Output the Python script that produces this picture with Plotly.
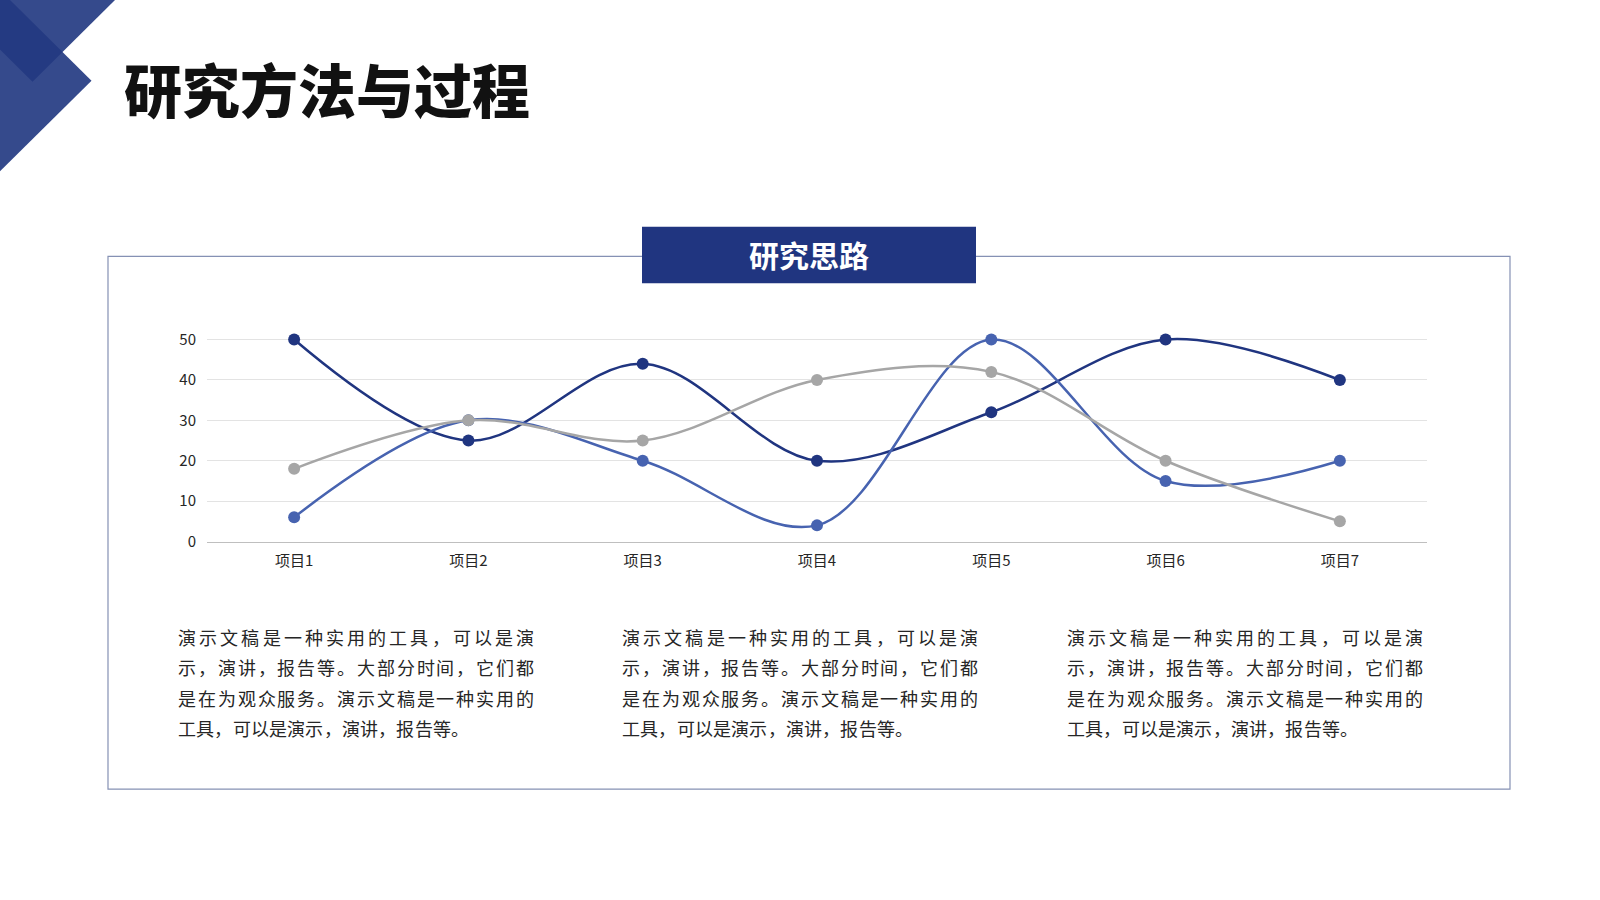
import plotly.graph_objects as go

W, H = 1600, 900

categories = ["项目1", "项目2", "项目3", "项目4", "项目5", "项目6", "项目7"]
series_a = [50, 25, 44, 20, 32, 50, 40]
series_b = [6, 30, 20, 4, 50, 15, 20]
series_c = [18, 30, 25, 40, 42, 20, 5]
y_ticks = [0, 10, 20, 30, 40, 50]

page_title = "研究方法与过程"
box_title = "研究思路"
paragraph_lines = [
    "演示文稿是一种实用的工具，可以是演",
    "示，演讲，报告等。大部分时间，它们都",
    "是在为观众服务。演示文稿是一种实用的",
    "工具，可以是演示，演讲，报告等。",
]

NAVY = "#203580"
BLUE = "#4763b0"
GREY = "#a6a6a6"
FONT = "Noto Sans CJK SC"


def px(x):
    return x / W


def py(y):
    return 1 - y / H


fig = go.Figure()

for vals, color in [(series_a, NAVY), (series_b, BLUE), (series_c, GREY)]:
    fig.add_trace(
        go.Scatter(
            x=categories,
            y=vals,
            mode="lines+markers",
            line=dict(color=color, width=2.5, shape="spline", smoothing=1),
            marker=dict(size=12, color=color),
            cliponaxis=False,
            showlegend=False,
        )
    )

fig.update_layout(
    width=W,
    height=H,
    margin=dict(l=0, r=0, t=0, b=0),
    paper_bgcolor="#ffffff",
    plot_bgcolor="#ffffff",
    font=dict(family=FONT, color="#333333"),
)

fig.update_xaxes(
    type="category",
    range=[-0.5, 6.5],
    domain=[px(207), px(1427)],
    showgrid=False,
    showline=True,
    linecolor="#bfbfbf",
    linewidth=1,
    ticks="",
    tickfont=dict(size=15, color="#262626"),
    ticklabelstandoff=5,
)

fig.update_yaxes(
    range=[0, 55],
    domain=[py(547), py(547 - 55 * 4.08)],
    tickvals=y_ticks,
    showgrid=True,
    gridcolor="#e3e3e3",
    gridwidth=1,
    zeroline=False,
    showline=False,
    ticks="",
    tickfont=dict(size=15, color="#262626"),
    ticklabelstandoff=10,
)

shapes = []
# decorative corner
shapes.append(dict(type="path", xref="paper", yref="paper", layer="above",
                   path=f"M {px(0)},{py(0)} L {px(10)},{py(0)} L {px(91.5)},{py(81.5)} L {px(0)},{py(173)} Z",
                   fillcolor="#354a8c", line=dict(width=0)))
shapes.append(dict(type="path", xref="paper", yref="paper", layer="above",
                   path=f"M {px(0)},{py(0)} L {px(115)},{py(0)} L {px(32.5)},{py(82.5)} L {px(0)},{py(50)} Z",
                   fillcolor="#354a8c", line=dict(width=0)))
shapes.append(dict(type="path", xref="paper", yref="paper", layer="above",
                   path=f"M {px(0)},{py(0)} L {px(10)},{py(0)} L {px(62.5)},{py(52.5)} L {px(32.5)},{py(82.5)} L {px(0)},{py(50)} Z",
                   fillcolor="#243a82", line=dict(width=0)))
# frame
shapes.append(dict(type="rect", xref="paper", yref="paper", layer="below",
                   x0=px(108), x1=px(1510), y0=py(797), y1=py(259),
                   line=dict(color="#8591b4", width=1.2), fillcolor="rgba(0,0,0,0)"))
# header box
shapes.append(dict(type="rect", xref="paper", yref="paper", layer="above",
                   x0=px(642), x1=px(976), y0=py(286), y1=py(229),
                   line=dict(width=0), fillcolor=NAVY))

annotations = [
    dict(text=page_title, x=px(122), y=py(89), xref="paper", yref="paper",
         xanchor="left", yanchor="middle", showarrow=False,
         font=dict(family=FONT, size=58, color="#111111", weight=900)),
    dict(text=box_title, x=px(809), y=py(257), xref="paper", yref="paper",
         xanchor="center", yanchor="middle", showarrow=False,
         font=dict(family=FONT, size=30, color="#ffffff", weight=700)),
]

# three justified paragraph columns
col_starts = [178, 622, 1067]
col_width = 356
line_ys = [643, 674, 705, 735]
em = 18
natural_step = 18.2
for cx in col_starts:
    for i, line in enumerate(paragraph_lines):
        n = len(line)
        if i < len(paragraph_lines) - 1:
            step = (col_width - em) / (n - 1)
        else:
            step = natural_step
        for k, ch in enumerate(line):
            annotations.append(dict(
                text=ch, x=px(cx + em / 2 + k * step), y=py(line_ys[i]),
                xref="paper", yref="paper", xanchor="center", yanchor="middle",
                showarrow=False, font=dict(family=FONT, size=em, color="#262626")))

fig.update_layout(shapes=shapes, annotations=annotations)

fig.write_html(
    "out.html",
    config={"displayModeBar": False},
    post_script="document.body.style.margin='0px';",
)
